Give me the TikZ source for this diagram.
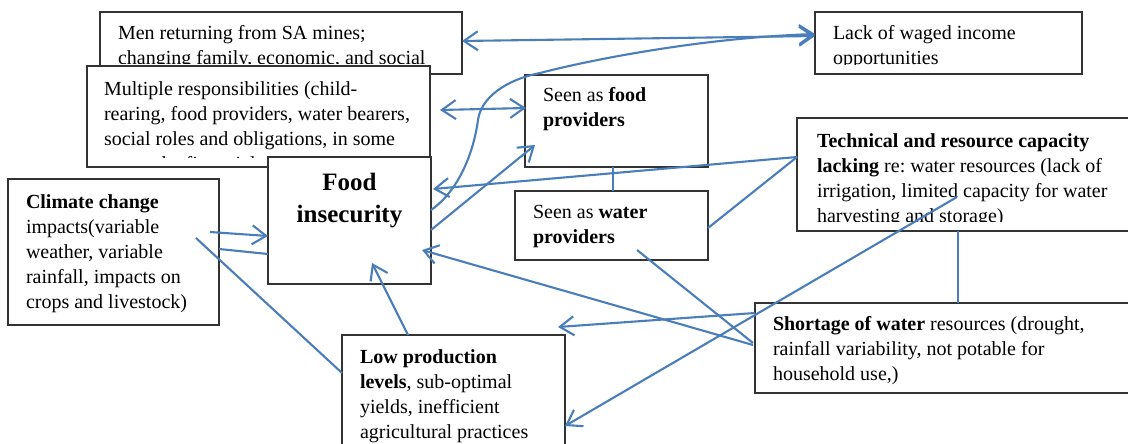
\documentclass[tikz,border=0pt]{standalone}
\usepackage{fontspec}
\setmainfont{Liberation Serif}
\usetikzlibrary{arrows.meta}
\pgfdeclarelayer{background}
\pgfsetlayers{background,main}
\definecolor{lnblue}{HTML}{4A7EBB}
\definecolor{bxgray}{HTML}{333333}
\frenchspacing
\begin{document}
\begin{tikzpicture}[x=1pt,y=-1pt,
  box/.style={draw=bxgray, line width=1.4pt, fill=white, rectangle, anchor=north west, inner sep=0pt, outer sep=0pt},
  txt/.style={anchor=north west, inner sep=0pt, outer sep=0pt, align=left, font=\fontsize{20}{25}\selectfont},
  conn/.style={draw=lnblue, line width=2.1pt},
  arr/.style={conn, -{Straight Barb[length=14pt,width=19pt]}},
  darr/.style={conn, {Straight Barb[length=14pt,width=19pt]}-{Straight Barb[length=14pt,width=19pt]}},
]
\useasboundingbox (0,0) rectangle (1128,444);
\fill[white] (0,0) rectangle (1128,444);

% Men returning
\node[box, minimum width=362pt, minimum height=62pt] (men) at (100,12) {};
\begin{scope}
  \clip (men.north west) rectangle ([shift={(362,52)}]men.north west);
  \node[txt] (mentxt) at ([shift={(18,10.5)}]men.north west)
    {\strut Men returning from SA mines;\\ changing family, economic, and social};
\end{scope}

% Multiple responsibilities
\node[box, minimum width=343pt, minimum height=101pt] (mult) at (87,66) {};
\begin{scope}
  \clip (mult.north west) rectangle ([shift={(343,91)}]mult.north west);
  \node[txt] (multtxt) at ([shift={(17,11.5)}]mult.north west)
    {\strut Multiple responsibilities (child-\\ rearing, food providers, water bearers,\\ social roles and obligations, in some\\ cases, the financial providers)};
\end{scope}

% Food insecurity
\node[box, minimum width=163pt, minimum height=127pt] (fi) at (268,157) {};
\node[anchor=north, inner sep=0pt, align=center, font=\bfseries\fontsize{25}{32}\selectfont] (fitxt)
  at ([shift={(81.5,10.6)}]fi.north west) {\strut Food\\ insecurity};

% Climate change
\node[box, minimum width=211pt, minimum height=146pt] (clim) at (8,179) {};
\node[txt] (climtxt) at ([shift={(18,11.5)}]clim.north west)
  {\strut\textbf{Climate change}\\ impacts(variable\\ weather, variable\\ rainfall, impacts on\\ crops and livestock)};

% Seen as food providers
\node[box, minimum width=183pt, minimum height=92pt] (fp) at (525,75) {};
\node[txt] (fptxt) at ([shift={(18,9.5)}]fp.north west)
  {\strut Seen as \textbf{food}\\ \textbf{providers}};

% Seen as water providers
\node[box, minimum width=193pt, minimum height=69pt] (wp) at (515,191) {};
\node[txt] (wptxt) at ([shift={(18,9.5)}]wp.north west)
  {\strut Seen as \textbf{water}\\ \textbf{providers}};

% Lack of waged income
\node[box, minimum width=267pt, minimum height=62pt] (lack) at (815,12) {};
\begin{scope}
  \clip (lack.north west) rectangle ([shift={(267,53)}]lack.north west);
  \node[txt] (lacktxt) at ([shift={(18,10.5)}]lack.north west)
    {\strut Lack of waged income\\ opportunities};
\end{scope}

% Technical and resource capacity
\node[box, minimum width=340pt, minimum height=113pt] (tech) at (797,118) {};
\begin{scope}
  \clip (tech.north west) rectangle ([shift={(340,103)}]tech.north west);
  \node[txt] (techtxt) at ([shift={(20,11.5)}]tech.north west)
    {\strut\textbf{Technical and resource capacity}\\ \textbf{lacking} re: water resources (lack of\\ irrigation, limited capacity for water\\ harvesting and storage)};
\end{scope}

% Shortage of water
\node[box, minimum width=380pt, minimum height=90pt] (short) at (755,303) {};
\node[txt] (shorttxt) at ([shift={(18,9.5)}]short.north west)
  {\strut\textbf{Shortage of water} resources (drought,\\ rainfall variability, not potable for\\ household use,)};

% Low production levels
\node[box, minimum width=223pt, minimum height=120pt] (low) at (342,335) {};
\node[txt] (lowtxt) at ([shift={(18,10.5)}]low.north west)
  {\strut\textbf{Low production}\\ \textbf{levels}, sub-optimal\\ yields, inefficient\\ agricultural practices};

\coordinate (free) at (558,327);

% connectors
\draw[darr] ([shift={(362,29)}]men.north west) -- ([shift={(0,24)}]lack.north west);
\draw[arr] ([shift={(163,53)}]fi.north west) .. controls (460,190) and (474,150) .. (478,120)
  .. controls (481,98) and (505,80) .. (540,73)
  .. controls (590,60) and (700,38) .. ([shift={(0,22)}]lack.north west);
\draw[darr] ([shift={(353,44)}]mult.north west) -- ([shift={(1,33)}]fp.north west);
\draw[arr] ([shift={(163,73)}]fi.north west) -- ([shift={(10,70)}]fp.north west);
\draw[conn] ([shift={(88,0)}]fp.south west) -- ([shift={(98,0)}]wp.north west);
\draw[arr] ([shift={(0,39)}]tech.north west) -- ([shift={(165,32)}]fi.north west);
\draw[conn] ([shift={(0,39)}]tech.north west) -- ([shift={(193,37)}]wp.north west);
\draw[arr] ([shift={(202,53)}]clim.north west) -- ([shift={(0,79)}]fi.north west);
\draw[conn] ([shift={(211,70)}]clim.north west) -- ([shift={(0,97)}]fi.north west);
\draw[conn] ([shift={(188,59)}]clim.north west) -- ([shift={(0,38)}]low.north west);
\draw[arr] ([shift={(66,0)}]low.north west) -- ([shift={(104,106)}]fi.north west);
\draw[arr] ([shift={(-2,42)}]short.north west) -- ([shift={(154,93)}]fi.north west);
\draw[conn] ([shift={(122,59)}]wp.north west) -- ([shift={(-2,40)}]short.north west);
\draw[arr] ([shift={(160,79)}]tech.north west) -- ([shift={(223,91)}]low.north west);
\draw[arr] ([shift={(0,10)}]short.north west) -- (free);
\draw[conn] ([shift={(161,0)}]tech.south west) -- ([shift={(203,0)}]short.north west);
\begin{pgfonlayer}{background}
  \draw[arr] ([shift={(163,111)}]fi.north west) -- ([shift={(57,1)}]short.north west);
\end{pgfonlayer}
\end{tikzpicture}
\end{document}
